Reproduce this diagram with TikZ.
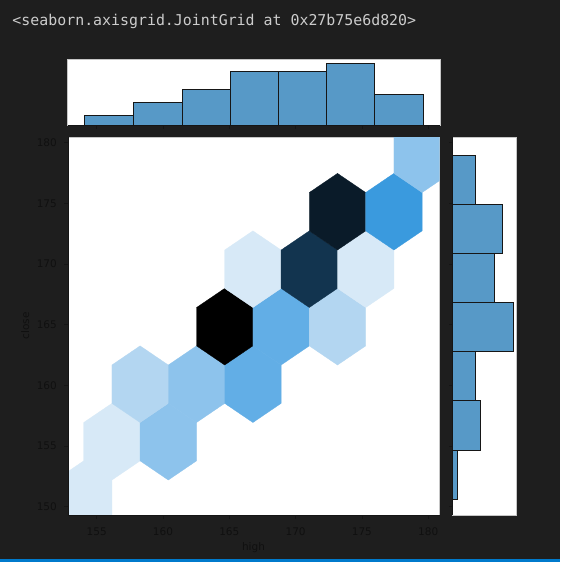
\documentclass[tikz,border=0pt]{standalone}
\usepackage{fontspec}
\setmainfont{DejaVu Sans}
\newfontfamily\codefont{DejaVu Sans Mono}
\usetikzlibrary{positioning}

\definecolor{bgdark}{HTML}{1E1E1E}
\definecolor{statusblue}{HTML}{007ACC}
\definecolor{codegray}{HTML}{CCCCCC}
\definecolor{labelink}{HTML}{101010}
\definecolor{spineink}{HTML}{151515}
\definecolor{histblue}{HTML}{5799C7}
\definecolor{baredge}{HTML}{161616}
% hexbin shades, light to dark
\definecolor{hexA}{HTML}{D7E9F7}
\definecolor{hexB}{HTML}{B3D6F1}
\definecolor{hexC}{HTML}{8DC3EC}
\definecolor{hexD}{HTML}{62AEE6}
\definecolor{hexE}{HTML}{3A9ADE}
\definecolor{hexF}{HTML}{12344F}
\definecolor{hexG}{HTML}{0A1B29}
\definecolor{hexH}{HTML}{000000}

\begin{document}
\begin{tikzpicture}[x=1pt,y=-1pt,
	panel/.style={fill=white,draw=gray!45,line width=0.5pt},
	spine/.style={draw=spineink,line width=1pt},
	tick/.style={draw=spineink,line width=0.8pt},
	ticklabel/.style={font=\fontsize{10.5}{12}\selectfont,text=labelink,inner sep=0pt},
	bar/.style={fill=histblue,draw=baredge,line width=1pt}]

	\fill[bgdark] (0,0) rectangle (560,562);
	\fill[statusblue] (0,558.5) rectangle (560,562);

	\node[anchor=base west,inner sep=0pt,text=codegray,font=\codefont\fontsize{14.9}{16}\selectfont] (title) at (12.3,25) {<seaborn.axisgrid.JointGrid at 0x27b75e6d820>};

	% panels
	\draw[panel] (68,137.3) rectangle (439.5,515);
	\draw[panel] (67.5,59) rectangle (440,125.7);
	\draw[panel] (452.7,137.3) rectangle (516.7,515);

	% hexbin
	\begin{scope}
		\clip (68,137.3) rectangle (439.5,515);
		\foreach \j/\r/\c in {0/6/hexA, 1/5/hexA, 3/5/hexC, 2/4/hexB, 4/4/hexC, 6/4/hexD,
				5/3/hexH, 7/3/hexD, 9/3/hexB, 6/2/hexA, 8/2/hexF, 10/2/hexA,
				9/1/hexG, 11/1/hexE, 12/0/hexC}
			\filldraw[fill=\c,draw=\c,line width=0.3pt] ({83.7+28.2*\j},{154.2+57.5*\r-38.3})
				-- ++(28.2,19.15) -- ++(0,38.3) -- ++(-28.2,19.15)
				-- ++(-28.2,-19.15) -- ++(0,-38.3) -- cycle;
	\end{scope}

	% marginal histograms
	\foreach \a/\b/\t in {84.3/133.7/115.7, 133.7/182/102.3, 182/230.3/89.3, 230.3/278/71.7,
			278/326.3/71.7, 326.3/374.3/63, 374.3/423.3/94}
		\draw[bar] (\a,125.7) rectangle (\b,\t);
	\foreach \a/\b/\w in {155.7/204.7/475.3, 204.7/253.8/502.7, 253.8/302.8/494.3, 302.8/351.9/513.7,
			351.9/400.9/475.3, 400.9/450/480, 450/499/457.3}
		\draw[bar] (452.7,\a) rectangle (\w,\b);

	% spines
	\draw[spine] (68,137.3) -- (68,515) -- (439.5,515);
	\draw[spine] (67.5,125.7) -- (440,125.7);
	\draw[spine] (452.7,137.3) -- (452.7,515);

	% ticks
	\foreach \v/\x in {155/96.7, 160/163, 165/229.3, 170/295.6, 175/361.9, 180/428.2} {
		\draw[tick] (\x,515) -- ++(0,3.7);
		\draw[tick] (\x,125.7) -- ++(0,3.7);
		\node[ticklabel,anchor=base] (xt\v) at (\x,535) {\v};
	}
	\foreach \v/\y in {150/506.7, 155/446, 160/385.4, 165/324.7, 170/264, 175/203.4, 180/142.7} {
		\draw[tick] (68,\y) -- ++(-3.7,0);
		\draw[tick] (452.7,\y) -- ++(-3.7,0);
		\node[ticklabel,anchor=east] (yt\v) at (57,\y) {\v};
	}

	\node[ticklabel,anchor=base] (xlabel) at (253.5,550.5) {high};
	\node[ticklabel,anchor=base,rotate=90] (ylabel) at (29,326) {close};
\end{tikzpicture}
\end{document}
